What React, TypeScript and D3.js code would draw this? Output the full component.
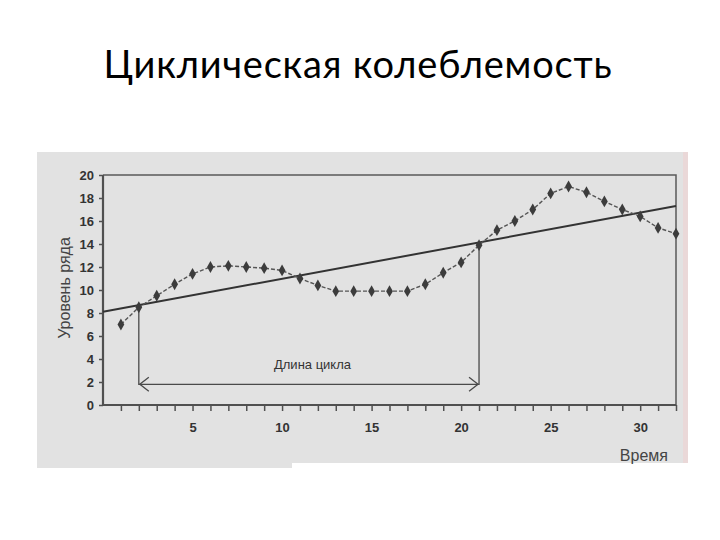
import React, { useEffect, useRef } from "react";
import * as d3 from "d3";

// series
const times = [1, 2, 3, 4, 5, 6, 7, 8, 9, 10, 11, 12, 13, 14, 15, 16, 17, 18, 19, 20, 21, 22, 23, 24, 25, 26, 27, 28, 29, 30, 31, 32];
const levels = [7, 8.5, 9.5, 10.5, 11.4, 12, 12.1, 12, 11.9, 11.7, 11, 10.4, 9.9, 9.9, 9.9, 9.9, 9.9, 10.5, 11.5, 12.4, 13.9, 15.2, 16, 17, 18.4, 19, 18.5, 17.7, 17, 16.4, 15.4, 14.9];
const trendX = [0, 32];
const trendY = [8.1, 17.3];
const cycleStart = 2;
const cycleEnd = 21;
const cycleArrowLevel = 1.8;
const yTicks = [0, 2, 4, 6, 8, 10, 12, 14, 16, 18, 20];
const xLabelTicks = [5, 10, 15, 20, 25, 30];

const W = 720;
const H = 540;
const plot = { left: 103, right: 676, top: 175, bottom: 405 };

export default function App() {
  const ref = useRef<SVGSVGElement>(null);

  useEffect(() => {
    const svg = d3.select(ref.current);
    svg.selectAll("*").remove();

    // title
    svg
      .append("text")
      .attr("x", 358)
      .attr("y", 78)
      .attr("text-anchor", "middle")
      .style("font-family", "Lato, 'Open Sans', sans-serif")
      .style("font-size", "38px")
      .style("letter-spacing", "0.8px")
      .attr("fill", "#000")
      .text("Циклическая колеблемость");

    // scanned page background
    svg.append("rect").attr("x", 37).attr("y", 152).attr("width", 651).attr("height", 311).attr("fill", "#e2e2e2");
    svg.append("rect").attr("x", 37).attr("y", 460).attr("width", 255).attr("height", 8).attr("fill", "#e2e2e2");
    svg.append("rect").attr("x", 683).attr("y", 152).attr("width", 5).attr("height", 311).attr("fill", "#ead8d8");

    const x = d3.scaleLinear().domain([0, 32]).range([plot.left, plot.right]);
    const y = d3.scaleLinear().domain([0, 20]).range([plot.bottom, plot.top]);
    const ink = "#3c3c3c";

    // plot frame top and right
    svg
      .append("path")
      .attr("d", `M${x(0)},${y(20)}H${x(32)}V${y(0)}`)
      .attr("fill", "none")
      .attr("stroke", "#5a5a5a")
      .attr("stroke-width", 1.5);

    const yAxis = svg
      .append("g")
      .attr("transform", `translate(${x(0)},0)`)
      .call(d3.axisLeft(y).tickValues(yTicks).tickSize(4).tickPadding(5).tickFormat(d3.format("d")));
    const xAxis = svg
      .append("g")
      .attr("transform", `translate(0,${y(0)})`)
      .call(
        d3
          .axisBottom(x)
          .tickValues(times)
          .tickSize(6)
          .tickPadding(12)
          .tickFormat((d) => (xLabelTicks.includes(+d) ? String(d) : ""))
      );
    [yAxis, xAxis].forEach((g) => {
      g.select(".domain").attr("stroke", "#505050").attr("stroke-width", 2.2);
      g.selectAll(".tick line").attr("stroke", "#505050").attr("stroke-width", 1.5);
      g.selectAll("text")
        .attr("fill", "#333")
        .style("font-family", "'Liberation Sans', Arial, sans-serif")
        .style("font-size", "13px")
        .style("font-weight", "bold");
    });
    xAxis.select(".domain").attr("d", `M${x(0)},0H${x(32)}`);
    yAxis.select(".domain").attr("d", `M0,${y(0)}V${y(20)}`);

    // cycle length marker
    const yc = y(cycleArrowLevel);
    svg
      .append("path")
      .attr(
        "d",
        `M${x(cycleStart)},${y(levels[times.indexOf(cycleStart)])}V${yc}H${x(cycleEnd)}V${y(levels[times.indexOf(cycleEnd)])}`
      )
      .attr("fill", "none")
      .attr("stroke", "#4a4a4a")
      .attr("stroke-width", 1.3);
    svg
      .append("path")
      .attr(
        "d",
        `M${x(cycleStart) + 10},${yc - 7}L${x(cycleStart) + 1},${yc}L${x(cycleStart) + 10},${yc + 7}` +
          `M${x(cycleEnd) - 10},${yc - 7}L${x(cycleEnd) - 1},${yc}L${x(cycleEnd) - 10},${yc + 7}`
      )
      .attr("fill", "none")
      .attr("stroke", "#4a4a4a")
      .attr("stroke-width", 1.3);
    svg
      .append("text")
      .attr("x", x(11.7))
      .attr("y", y(3.1))
      .attr("text-anchor", "middle")
      .attr("fill", "#333")
      .style("font-family", "'Liberation Sans', Arial, sans-serif")
      .style("font-size", "13px")
      .text("Длина цикла");

    // trend
    svg
      .append("line")
      .attr("x1", x(trendX[0]))
      .attr("y1", y(trendY[0]))
      .attr("x2", x(trendX[1]))
      .attr("y2", y(trendY[1]))
      .attr("stroke", "#333")
      .attr("stroke-width", 2);

    // series
    const pts = times.map((t, i) => [t, levels[i]] as [number, number]);
    svg
      .append("path")
      .datum(pts)
      .attr("d", d3.line<[number, number]>().x((d) => x(d[0])).y((d) => y(d[1])))
      .attr("fill", "none")
      .attr("stroke", "#555")
      .attr("stroke-width", 1.4)
      .attr("stroke-dasharray", "4,2");
    svg
      .append("g")
      .selectAll("path")
      .data(pts)
      .join("path")
      .attr("transform", (d) => `translate(${x(d[0])},${y(d[1])})`)
      .attr("d", d3.symbol().type(d3.symbolDiamond).size(40)())
      .attr("fill", ink);

    // axis titles
    svg
      .append("text")
      .attr("transform", `translate(70,288) rotate(-90)`)
      .attr("text-anchor", "middle")
      .attr("fill", "#444")
      .style("font-family", "'Liberation Sans', Arial, sans-serif")
      .style("font-size", "16px")
      .text("Уровень ряда");
    svg
      .append("text")
      .attr("x", 668)
      .attr("y", 461)
      .attr("text-anchor", "end")
      .attr("fill", "#444")
      .style("font-family", "'Liberation Sans', Arial, sans-serif")
      .style("font-size", "16px")
      .text("Время");
  }, []);

  return (
    <svg
      ref={ref}
      width={W}
      height={H}
      style={{ position: "absolute", left: 0, top: 0, background: "#fff" }}
    />
  );
}
